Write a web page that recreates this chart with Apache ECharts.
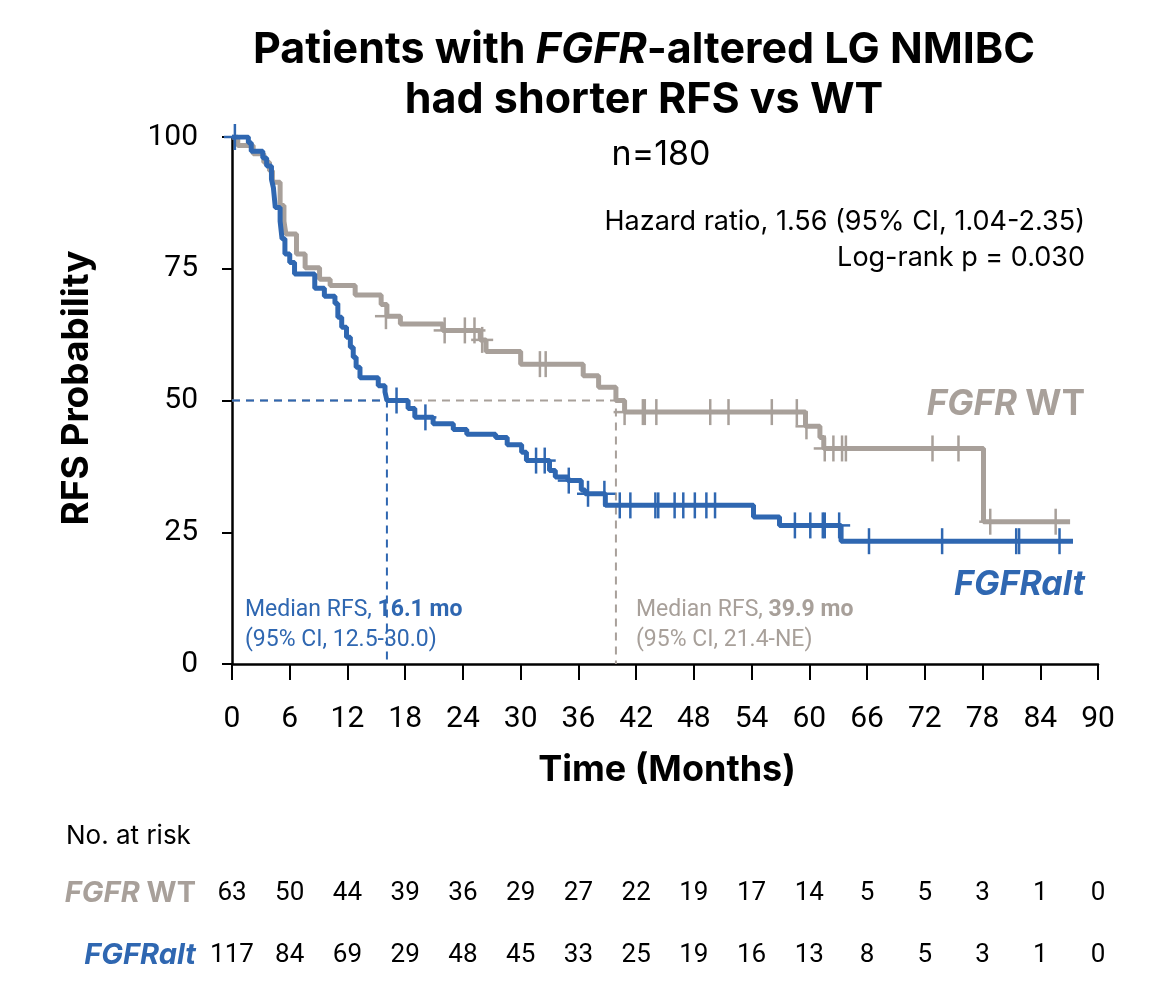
<!DOCTYPE html>
<html>
<head>
<meta charset="utf-8">
<script src="https://cdn.jsdelivr.net/npm/echarts@6/dist/echarts.min.js"></script>
<style>html,body{margin:0;padding:0;background:#fff;}#c{width:1158px;height:992px;}</style>
</head>
<body>
<div id="c"></div>
<script>
// ---- data ----
const altCurve = [[0,100],[1.7,98.9],[2.0,97.3],[3.2,96.0],[3.6,94.5],[4.1,92.0],[4.3,90.4],[4.5,86.6],[5.0,84.0],[5.2,80.7],[5.5,77.8],[6.0,76.2],[6.5,74.0],[8.6,71.3],[9.6,69.8],[10.7,68.4],[11.0,65.8],[11.4,63.9],[11.9,62.0],[12.3,60.1],[12.6,58.2],[12.9,56.3],[13.3,54.3],[15.2,52.8],[15.9,51.6],[16.1,50.0],[18.3,48.5],[19.0,46.8],[20.9,45.6],[23.0,44.5],[24.4,43.6],[27.4,43.0],[28.6,41.6],[30.1,40.2],[30.6,38.6],[33.0,36.7],[33.6,35.5],[34.9,34.8],[36.3,33.0],[36.7,32.3],[38.8,30.1],[54.2,27.9],[56.9,26.3],[63.3,23.3],[87.4,23.3]];
const wtCurve = [[0,100],[0.6,98.4],[2.2,96.8],[3.3,95.2],[3.9,93.6],[4.2,91.4],[5.0,87.0],[5.4,84.0],[5.6,81.6],[6.7,77.8],[7.6,75.2],[9.1,73.0],[10.2,71.8],[12.8,70.0],[15.5,68.2],[16.1,66.0],[17.5,64.5],[21.9,63.3],[25.8,61.5],[26.4,59.3],[30.0,56.9],[36.5,54.7],[38.1,52.5],[39.9,50.0],[40.8,47.8],[59.6,45.1],[61.1,43.0],[61.5,40.9],[78.1,27.0],[87.1,27.0]];
const altCensor = [[0.3,100],[17.1,50],[20.1,46.8],[31.6,38.6],[32.5,38.6],[35.0,34.8],[37.0,32.3],[38.7,32.3],[40.3,30.1],[41.4,30.1],[44.0,30.1],[44.3,30.1],[46.0,30.1],[46.9,30.1],[48.1,30.1],[49.3,30.1],[50.2,30.1],[58.5,26.3],[60.1,26.3],[61.4,26.3],[61.6,26.3],[63.1,26.3],[66.2,23.3],[73.8,23.3],[81.5,23.3],[81.8,23.3],[86.0,23.3]];
const wtCensor = [[16.0,66.0],[22.1,63.3],[24.2,63.3],[25.2,63.3],[26.0,61.5],[32.0,56.9],[32.6,56.9],[40.8,47.8],[42.7,47.8],[42.9,47.8],[44.1,47.8],[49.7,47.8],[51.6,47.8],[56.1,47.8],[58.7,47.8],[59.7,45.1],[61.6,40.9],[62.5,40.9],[63.4,40.9],[63.8,40.9],[72.8,40.9],[75.5,40.9],[78.8,27.0],[85.6,27.0]];
const riskWT = [63,50,44,39,36,29,27,22,19,17,14,5,5,3,1,0];
const riskAlt = [117,84,69,29,48,45,33,25,19,16,13,8,5,3,1,0];
const medianAlt = 16.1;
const medianWT = 39.9;

const BLUE = '#2F67B1';
const GREY = '#A8A09A';
const NUM = 'Roboto';
const TXT = 'Inter';

function censorRender(color){
  return function(params, api){
    const p = api.coord([api.value(0), api.value(1)]);
    return {type:'group', children:[
      {type:'line', shape:{x1:p[0], y1:p[1]-13, x2:p[0], y2:p[1]+13}, style:{stroke:color, lineWidth:2.5}},
      {type:'line', shape:{x1:p[0]-11, y1:p[1], x2:p[0]+11, y2:p[1]}, style:{stroke:color, lineWidth:2.5}}
    ]};
  };
}

const chart = echarts.init(document.getElementById('c'), null, {renderer:'canvas'});
chart.setOption({
  animation:false,
  backgroundColor:'#fff',
  textStyle:{fontFamily:NUM},
  grid:[
    {left:232, right:60, top:137, height:527},
    {left:232, right:60, top:892, height:1},
    {left:232, right:60, top:954, height:1}
  ],
  xAxis:[
    {type:'value', gridIndex:0, min:0, max:90, interval:6,
     axisLine:{lineStyle:{color:'#000', width:2.5}},
     axisTick:{show:true, length:16, lineStyle:{color:'#000', width:2}},
     axisLabel:{fontSize:30, color:'#000', margin:40, fontFamily:NUM},
     splitLine:{show:false}},
    {type:'value', gridIndex:1, min:0, max:90, interval:6,
     axisLine:{show:false}, axisTick:{show:false}, splitLine:{show:false},
     axisLabel:{fontSize:26, color:'#000', margin:0, verticalAlign:'middle', fontFamily:NUM,
       formatter:function(v){return String(riskWT[Math.round(v/6)]);}}},
    {type:'value', gridIndex:2, min:0, max:90, interval:6,
     axisLine:{show:false}, axisTick:{show:false}, splitLine:{show:false},
     axisLabel:{fontSize:26, color:'#000', margin:0, verticalAlign:'middle', fontFamily:NUM,
       formatter:function(v){return String(riskAlt[Math.round(v/6)]);}}}
  ],
  yAxis:[
    {type:'value', gridIndex:0, min:0, max:100, interval:25,
     axisLine:{show:true, lineStyle:{color:'#000', width:2.5}},
     axisTick:{show:true, length:10, lineStyle:{color:'#000', width:2}},
     axisLabel:{fontSize:30, color:'#000', margin:34, fontFamily:NUM},
     splitLine:{show:false}},
    {type:'value', gridIndex:1, min:0, max:1, show:false},
    {type:'value', gridIndex:2, min:0, max:1, show:false}
  ],
  series:[
    {type:'line', name:'wtMedian', xAxisIndex:0, yAxisIndex:0, symbol:'none', z:1,
     data:[[0,50],[medianWT,50],[medianWT,0]],
     lineStyle:{color:GREY, width:2, type:[8,6]}},
    {type:'line', name:'altMedian', xAxisIndex:0, yAxisIndex:0, symbol:'none', z:2,
     data:[[0,50],[medianAlt,50],[medianAlt,0]],
     lineStyle:{color:BLUE, width:2, type:[8,6]}},
    {type:'line', name:'FGFR WT', step:'end', symbol:'none', z:3,
     data:wtCurve, lineStyle:{color:GREY, width:5}},
    {type:'custom', name:'wtCensor', z:4, renderItem:censorRender(GREY), data:wtCensor},
    {type:'line', name:'FGFRalt', step:'end', symbol:'none', z:5,
     data:altCurve, lineStyle:{color:BLUE, width:5}},
    {type:'custom', name:'altCensor', z:6, renderItem:censorRender(BLUE), data:altCensor},
    {type:'scatter', xAxisIndex:1, yAxisIndex:1, data:[]},
    {type:'scatter', xAxisIndex:2, yAxisIndex:2, data:[]}
  ],
  graphic:[
    {type:'text', x:644, y:75, style:{
      text:'{b|Patients with }{bi|FGFR}{b|-altered LG NMIBC}\n{b|had shorter RFS vs WT}',
      textAlign:'center', textVerticalAlign:'middle', lineHeight:50,
      rich:{b:{fontSize:43, fontWeight:'bold', fontFamily:TXT, fill:'#000', lineHeight:50},
            bi:{fontSize:43, fontWeight:'bold', fontStyle:'italic', fontFamily:TXT, fill:'#000', lineHeight:50}}
    }},
    {type:'text', x:661, y:155, style:{text:'n=180', fontSize:34, fontFamily:TXT, fill:'#000', textAlign:'center', textVerticalAlign:'middle'}},
    {type:'text', x:1085, y:222, style:{text:'Hazard ratio, 1.56 (95% CI, 1.04-2.35)', fontSize:27, fontFamily:TXT, fill:'#000', textAlign:'right', textVerticalAlign:'middle'}},
    {type:'text', x:1085, y:258, style:{text:'Log-rank p = 0.030', fontSize:27, fontFamily:TXT, fill:'#000', textAlign:'right', textVerticalAlign:'middle'}},
    {type:'text', x:77, y:388, rotation:Math.PI/2, style:{text:'RFS Probability', fontSize:37, fontWeight:'bold', fontFamily:TXT, fill:'#000', textAlign:'center', textVerticalAlign:'middle'}},
    {type:'text', x:667, y:770, style:{text:'Time (Months)', fontSize:36, fontWeight:'bold', fontFamily:TXT, fill:'#000', textAlign:'center', textVerticalAlign:'middle'}},
    {type:'text', x:1085, y:404, style:{text:'{i|FGFR}{n| WT}', textAlign:'right', textVerticalAlign:'middle',
      rich:{i:{fontSize:35, fontWeight:'bold', fontStyle:'italic', fontFamily:TXT, fill:GREY}, n:{fontSize:35, fontWeight:'bold', fontFamily:TXT, fill:GREY}}}},
    {type:'text', x:1085, y:585, style:{text:'FGFRalt', fontSize:34, fontWeight:'bold', fontStyle:'italic', fontFamily:TXT, fill:BLUE, textAlign:'right', textVerticalAlign:'middle'}},
    {type:'text', x:245, y:625, style:{text:'{n|Median RFS, }{b|16.1 mo}\n{n|(95% CI, 12.5-30.0)}', textVerticalAlign:'middle',
      rich:{n:{fontSize:23, fontFamily:NUM, fill:BLUE, lineHeight:30}, b:{fontSize:23, fontWeight:'bold', fontFamily:NUM, fill:BLUE, lineHeight:30}}}},
    {type:'text', x:636, y:625, style:{text:'{n|Median RFS, }{b|39.9 mo}\n{n|(95% CI, 21.4-NE)}', textVerticalAlign:'middle',
      rich:{n:{fontSize:23, fontFamily:NUM, fill:GREY, lineHeight:30}, b:{fontSize:23, fontWeight:'bold', fontFamily:NUM, fill:GREY, lineHeight:30}}}},
    {type:'text', x:66, y:836, style:{text:'No. at risk', fontSize:26, fontFamily:TXT, fill:'#000', textVerticalAlign:'middle'}},
    {type:'text', x:196, y:893, style:{text:'{i|FGFR}{n| WT}', textAlign:'right', textVerticalAlign:'middle',
      rich:{i:{fontSize:29, fontWeight:'bold', fontStyle:'italic', fontFamily:TXT, fill:GREY}, n:{fontSize:29, fontWeight:'bold', fontFamily:TXT, fill:GREY}}}},
    {type:'text', x:196, y:955, style:{text:'FGFRalt', fontSize:29, fontWeight:'bold', fontStyle:'italic', fontFamily:TXT, fill:BLUE, textAlign:'right', textVerticalAlign:'middle'}}
  ]
});
</script>
</body>
</html>
